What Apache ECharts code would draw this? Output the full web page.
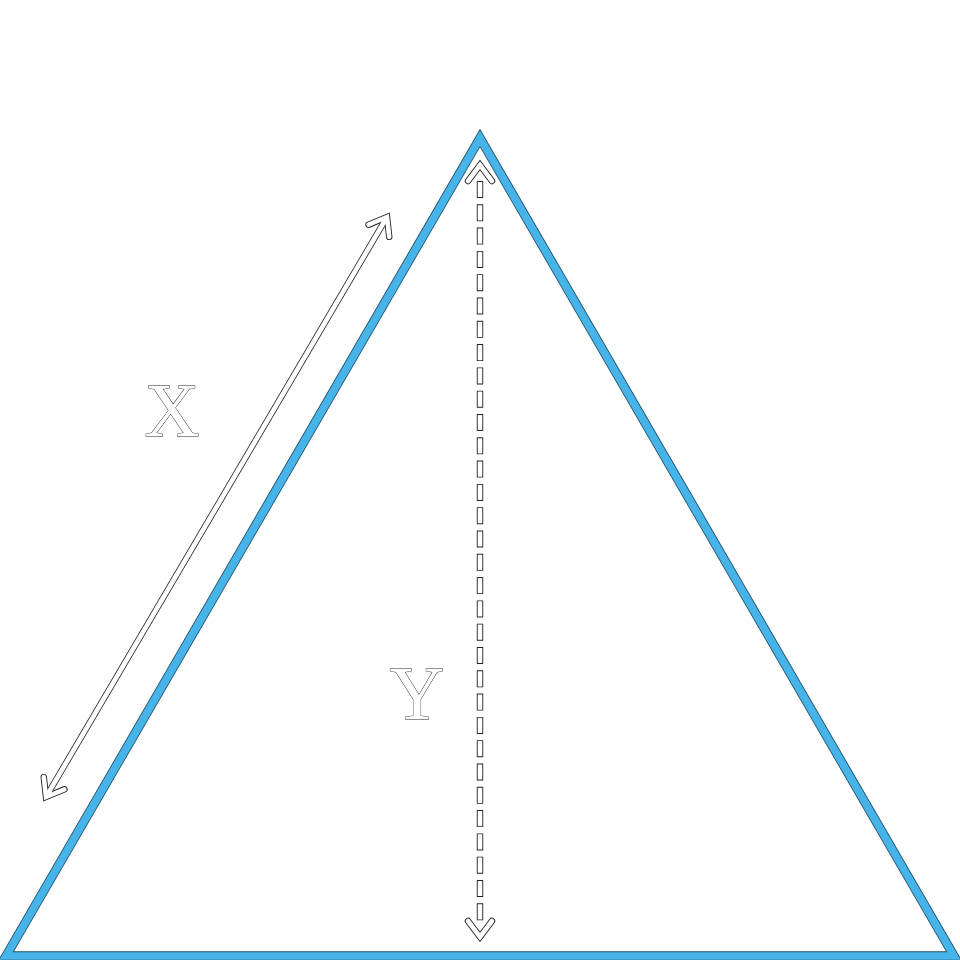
<!DOCTYPE html>
<html>
<head>
<meta charset="utf-8">
<script src="https://cdn.jsdelivr.net/npm/echarts@6/dist/echarts.min.js"></script>
<style>html,body{margin:0;padding:0;background:#fff;}#c{width:960px;height:960px;}</style>
</head>
<body>
<div id="c"></div>
<script>
// Diagram data (units: drawing space 0..960, y downward)
var triangleVertices = [[6, 956], [480, 138], [954, 956]];
var sideArrow = [[46, 797], [387, 217]];        // double-headed arrow along side X
var heightArrow = [[480, 165], [480, 937]];     // dashed double-headed arrow for height Y
var labelNames = ['X', 'Y'];
var labelPositions = [[172, 416], [417, 699]];

var chart = echarts.init(document.getElementById('c'));

function headPts(tip, from, len, half) {
  var dx = tip[0] - from[0], dy = tip[1] - from[1];
  var L = Math.sqrt(dx * dx + dy * dy);
  var ux = dx / L, uy = dy / L;
  var bx = tip[0] - ux * len, by = tip[1] - uy * len;
  return {
    a: [bx - uy * half, by + ux * half],
    b: [bx + uy * half, by - ux * half],
    base: [tip[0] - ux * (len - 2), tip[1] - uy * (len - 2)]
  };
}

function arrowItem(params, api, dashed) {
  var p1 = api.coord([api.value(0), api.value(1)]);
  var p2 = api.coord([api.value(2), api.value(3)]);
  var h1 = headPts(p1, p2, 16, 12);
  var h2 = headPts(p2, p1, 16, 12);
  var children = [];
  var layers = [{c: '#222', w: 6.4}, {c: '#fff', w: 4.6}];
  layers.forEach(function (ly, i) {
    var shaftStyle = {stroke: ly.c, lineWidth: ly.w, fill: null, lineCap: 'butt'};
    if (dashed) {
      if (i === 0) { shaftStyle.lineDash = [17, 6.3]; shaftStyle.lineDashOffset = 0; }
      else { shaftStyle.lineDash = [15.2, 8.1]; shaftStyle.lineDashOffset = -0.9; }
      children.push({type: 'line', shape: {x1: h1.base[0], y1: h1.base[1] + 2, x2: h2.base[0], y2: h2.base[1]}, style: shaftStyle});
    } else {
      children.push({type: 'line', shape: {x1: p1[0], y1: p1[1], x2: p2[0], y2: p2[1]}, style: shaftStyle});
    }
    children.push({type: 'polyline', shape: {points: [h1.a, p1, h1.b]}, style: {stroke: ly.c, lineWidth: ly.w, fill: null, lineJoin: 'miter', lineCap: 'round'}});
    children.push({type: 'polyline', shape: {points: [h2.a, p2, h2.b]}, style: {stroke: ly.c, lineWidth: ly.w, fill: null, lineJoin: 'miter', lineCap: 'round'}});
  });
  return {type: 'group', children: children};
}

chart.setOption({
  animation: false,
  backgroundColor: '#fff',
  grid: {left: 0, right: 0, top: 0, bottom: 0},
  xAxis: {type: 'value', min: 0, max: 960, show: false},
  yAxis: {type: 'value', min: 0, max: 960, inverse: true, show: false},
  series: [
    {
      type: 'custom',
      clip: false,
      data: [[0]],
      renderItem: function (params, api) {
        var pts = triangleVertices.map(function (v) { return api.coord(v); });
        return {type: 'group', children: [
          {type: 'polygon', shape: {points: pts}, style: {fill: null, stroke: '#1f4e66', lineWidth: 9.4, lineJoin: 'miter'}},
          {type: 'polygon', shape: {points: pts}, style: {fill: null, stroke: '#47b4e9', lineWidth: 7.6, lineJoin: 'miter'}}
        ]};
      }
    },
    {
      type: 'custom',
      clip: false,
      data: [[sideArrow[0][0], sideArrow[0][1], sideArrow[1][0], sideArrow[1][1]]],
      renderItem: function (params, api) { return arrowItem(params, api, false); }
    },
    {
      type: 'custom',
      clip: false,
      data: [[heightArrow[0][0], heightArrow[0][1], heightArrow[1][0], heightArrow[1][1]]],
      renderItem: function (params, api) { return arrowItem(params, api, true); }
    },
    {
      type: 'custom',
      clip: false,
      data: labelPositions.map(function (p, i) { return [p[0], p[1], i]; }),
      renderItem: function (params, api) {
        var p = api.coord([api.value(0), api.value(1)]);
        return {type: 'text', style: {
          text: labelNames[api.value(2)], x: p[0], y: p[1],
          align: 'center', verticalAlign: 'middle',
          font: '76px "Liberation Serif", serif',
          fill: '#fff', stroke: '#222', lineWidth: 0.9
        }};
      }
    }
  ]
});
</script>
</body>
</html>
